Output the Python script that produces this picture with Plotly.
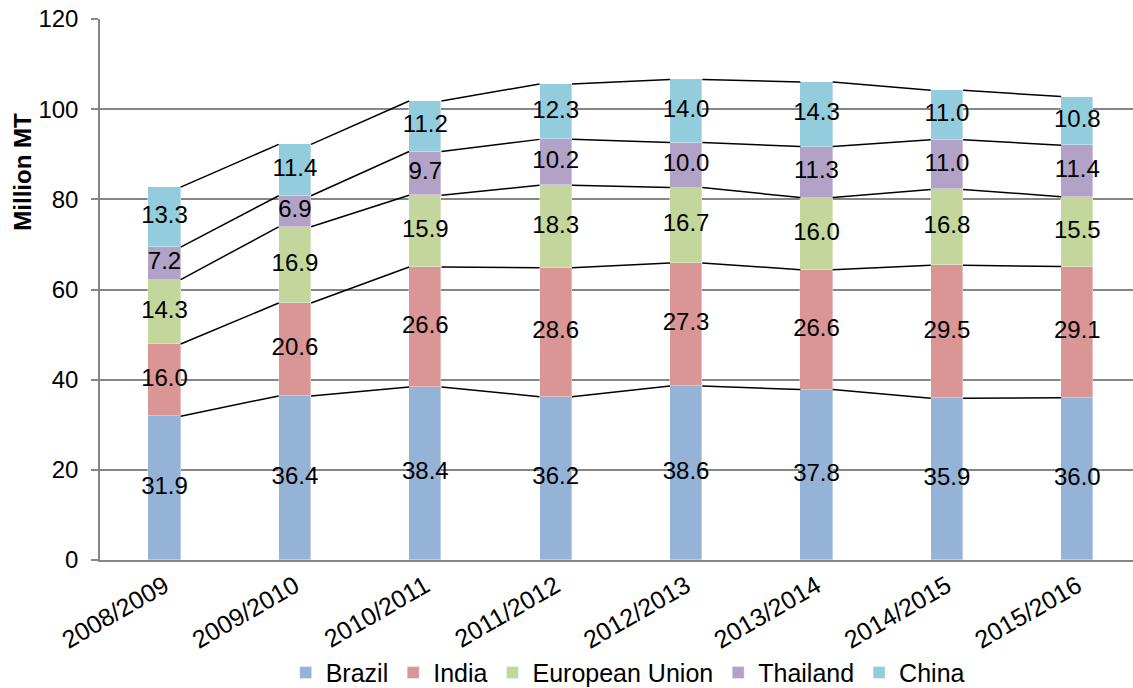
import plotly.graph_objects as go

# Marketing years on the category axis
seasons = ["2008/2009", "2009/2010", "2010/2011", "2011/2012",
           "2012/2013", "2013/2014", "2014/2015", "2015/2016"]

# Sugar production by producer (million metric tons)
brazil = [31.9, 36.4, 38.4, 36.2, 38.6, 37.8, 35.9, 36.0]
india = [16.0, 20.6, 26.6, 28.6, 27.3, 26.6, 29.5, 29.1]
european_union = [14.3, 16.9, 15.9, 18.3, 16.7, 16.0, 16.8, 15.5]
thailand = [7.2, 6.9, 9.7, 10.2, 10.0, 11.3, 11.0, 11.4]
china = [13.3, 11.4, 11.2, 12.3, 14.0, 14.3, 11.0, 10.8]

y_ticks = [0, 20, 40, 60, 80, 100, 120]

series = [
    ("Brazil", brazil, "#95B3D7"),
    ("India", india, "#D99694"),
    ("European Union", european_union, "#C3D69B"),
    ("Thailand", thailand, "#B3A2C7"),
    ("China", china, "#93CDDD"),
]

FONT = "Liberation Sans, Arial, sans-serif"
BAR_W = 0.248
xs = list(range(len(seasons)))

fig = go.Figure()

# Stacked bars
for name, vals, color in series:
    fig.add_trace(go.Bar(
        x=xs, y=vals, name=name, width=BAR_W,
        marker=dict(color=color, line=dict(color="rgba(255,255,255,0.6)", width=0.6)),
        hoverinfo="name+y",
    ))

# Running totals for labels and series lines
tops = []
running = [0.0] * len(seasons)
for name, vals, color in series:
    bottoms = running[:]
    running = [b + v for b, v in zip(running, vals)]
    tops.append(running[:])
    # value labels centred in each segment
    fig.add_trace(go.Scatter(
        x=xs, y=[b + v / 2 for b, v in zip(bottoms, vals)],
        mode="text", text=[f"{v:.1f}" for v in vals],
        textfont=dict(family=FONT, size=24, color="black"),
        showlegend=False, hoverinfo="skip",
    ))

# Series lines joining the top of each segment between neighbouring bars
for level in tops:
    lx, ly = [], []
    for i in range(len(seasons) - 1):
        lx += [xs[i] + BAR_W / 2, xs[i + 1] - BAR_W / 2, None]
        ly += [level[i], level[i + 1], None]
    fig.add_trace(go.Scatter(
        x=lx, y=ly, mode="lines",
        line=dict(color="black", width=1.5),
        showlegend=False, hoverinfo="skip",
    ))

fig.update_layout(
    width=1133, height=688,
    margin=dict(l=100, r=0, t=19, b=128),
    barmode="stack",
    bargap=0,
    plot_bgcolor="white",
    paper_bgcolor="white",
    font=dict(family=FONT, size=24, color="black"),
    showlegend=True,
    legend=dict(
        orientation="h",
        xref="container", yref="container",
        x=0.554, xanchor="center",
        y=0.022, yanchor="middle",
        traceorder="normal",
        font=dict(family=FONT, size=25, color="black"),
        itemwidth=30,
        tracegroupgap=0,
    ),
    xaxis=dict(
        range=[-0.4946, 7.427],
        tickmode="array", tickvals=xs, ticktext=seasons,
        tickangle=-30,
        automargin=False,
        showgrid=False, zeroline=False,
        showline=True, linecolor="#868686", linewidth=1.5,
        ticks="",
        tickfont=dict(family=FONT, size=25, color="black"),
    ),
    yaxis=dict(
        range=[0, 120],
        tickmode="array", tickvals=y_ticks,
        automargin=False,
        showgrid=True, gridcolor="#868686", gridwidth=1.5,
        zeroline=False,
        showline=True, linecolor="#868686", linewidth=1.5,
        ticks="outside", ticklen=7, tickcolor="#868686", tickwidth=1.5,
        ticklabelstandoff=8,
        tickfont=dict(family=FONT, size=24, color="black"),
    ),
    annotations=[dict(
        text="<b>Million MT</b>",
        xref="paper", yref="paper",
        x=-0.075, y=0.717, xanchor="center", yanchor="middle",
        textangle=-90, showarrow=False,
        font=dict(family=FONT, size=24, color="black"),
    )],
)

fig.write_html("out.html")
